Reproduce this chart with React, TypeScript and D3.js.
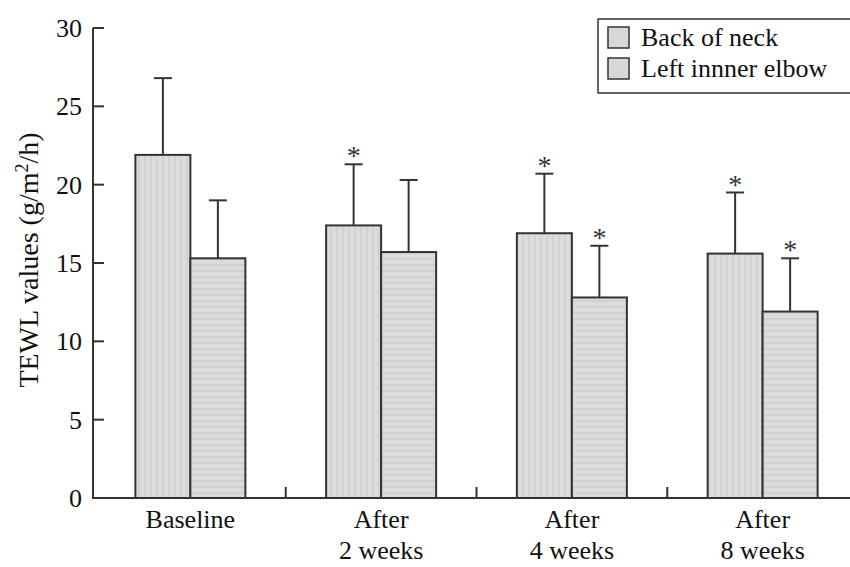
import React, { useEffect, useRef } from 'react';
import * as d3 from 'd3';

const categories = ['Baseline', 'After\n2 weeks', 'After\n4 weeks', 'After\n8 weeks'];
const seriesNames = ['Back of neck', 'Left innner elbow'];
const neckValues = [21.9, 17.4, 16.9, 15.6];
const neckErrors = [4.9, 3.9, 3.8, 3.9];
const elbowValues = [15.3, 15.7, 12.8, 11.9];
const elbowErrors = [3.7, 4.6, 3.3, 3.4];
const neckStars = [false, true, true, true];
const elbowStars = [false, false, true, true];
const yTicks = [0, 5, 10, 15, 20, 25, 30];

const App = () => {
    const svgRef = useRef<SVGSVGElement>(null);

    useEffect(() => {
        const svg = d3.select(svgRef.current);
        svg.selectAll('*').remove();

        const width = 850;
        const height = 567;
        const margin = { top: 28, right: 0, bottom: 69, left: 93 };
        const font = 'Liberation Serif';

        const defs = svg.append('defs');
        const pv = defs.append('pattern').attr('id', 'pv').attr('patternUnits', 'userSpaceOnUse')
            .attr('width', 6).attr('height', 6);
        pv.append('rect').attr('width', 6).attr('height', 6).attr('fill', '#dcdcdc');
        pv.append('rect').attr('x', 0).attr('width', 2).attr('height', 6).attr('fill', '#d2d2d2');
        const ph = defs.append('pattern').attr('id', 'ph').attr('patternUnits', 'userSpaceOnUse')
            .attr('width', 6).attr('height', 6);
        ph.append('rect').attr('width', 6).attr('height', 6).attr('fill', '#dcdcdc');
        ph.append('rect').attr('y', 0).attr('width', 6).attr('height', 2).attr('fill', '#d0d0d0');

        const xScale = d3.scaleBand()
            .domain(categories)
            .range([margin.left + 2, 858])
            .paddingInner(0)
            .paddingOuter(0);

        const yScale = d3.scaleLinear()
            .domain([0, 30])
            .range([height - margin.bottom, margin.top]);

        const barW = 55;
        const g = svg.append('g');

        const series = [
            { values: neckValues, errors: neckErrors, stars: neckStars, fill: 'url(#pv)', off: -barW },
            { values: elbowValues, errors: elbowErrors, stars: elbowStars, fill: 'url(#ph)', off: 0 },
        ];

        series.forEach(s => {
            categories.forEach((c, i) => {
                const cx = xScale(c)! + xScale.bandwidth() / 2;
                const x0 = cx + s.off;
                const top = s.values[i] + s.errors[i];
                const mid = x0 + barW / 2;
                // error bar
                g.append('line').attr('x1', mid).attr('x2', mid)
                    .attr('y1', yScale(s.values[i])).attr('y2', yScale(top))
                    .attr('stroke', '#333').attr('stroke-width', 2);
                g.append('line').attr('x1', mid - 9).attr('x2', mid + 9)
                    .attr('y1', yScale(top)).attr('y2', yScale(top))
                    .attr('stroke', '#333').attr('stroke-width', 2);
                g.append('rect')
                    .attr('x', x0).attr('y', yScale(s.values[i]))
                    .attr('width', barW).attr('height', yScale(0) - yScale(s.values[i]))
                    .attr('fill', s.fill).attr('stroke', '#333').attr('stroke-width', 2);
                if (s.stars[i]) {
                    g.append('text').attr('x', mid).attr('y', yScale(top) + 1)
                        .attr('text-anchor', 'middle').attr('font-family', font)
                        .attr('font-size', 28).attr('fill', '#333').text('*');
                }
            });
        });

        // axes
        const axis = svg.append('g').attr('stroke', '#333').attr('stroke-width', 2);
        axis.append('line').attr('x1', margin.left).attr('x2', margin.left)
            .attr('y1', yScale(30)).attr('y2', yScale(0));
        axis.append('line').attr('x1', margin.left - 1).attr('x2', width)
            .attr('y1', yScale(0)).attr('y2', yScale(0));
        yTicks.forEach(t => {
            axis.append('line').attr('x1', margin.left).attr('x2', margin.left + 11)
                .attr('y1', yScale(t)).attr('y2', yScale(t));
            svg.append('text').attr('x', margin.left - 11).attr('y', yScale(t))
                .attr('dy', '0.35em').attr('text-anchor', 'end')
                .attr('font-family', font).attr('font-size', 26).attr('fill', '#111')
                .text(t);
        });
        categories.slice(1).forEach(c => {
            const x = xScale(c)!;
            axis.append('line').attr('x1', x).attr('x2', x)
                .attr('y1', yScale(0)).attr('y2', yScale(0) - 11);
        });

        categories.forEach(c => {
            const cx = xScale(c)! + xScale.bandwidth() / 2;
            const lines = c.split('\n');
            const t = svg.append('text').attr('text-anchor', 'middle')
                .attr('font-family', font).attr('font-size', 26).attr('fill', '#111');
            lines.forEach((l, k) => {
                t.append('tspan').attr('x', cx).attr('y', yScale(0) + 30 + k * 31).text(l);
            });
        });

        // y label
        const yl = svg.append('text')
            .attr('transform', `translate(38, 260) rotate(-90)`)
            .attr('text-anchor', 'middle')
            .attr('font-family', font).attr('font-size', 28).attr('fill', '#111');
        yl.append('tspan').text('TEWL values (g/m');
        yl.append('tspan').attr('font-size', 18).attr('dy', -10).text('2');
        yl.append('tspan').attr('dy', 10).text('/h)');

        // legend
        const lg = svg.append('g');
        lg.append('rect').attr('x', 598).attr('y', 19).attr('width', 260).attr('height', 74)
            .attr('fill', 'white').attr('stroke', '#333').attr('stroke-width', 1.5);
        seriesNames.forEach((n, i) => {
            const y = 27 + i * 31;
            lg.append('rect').attr('x', 608).attr('y', y).attr('width', 21).attr('height', 21)
                .attr('fill', '#d8d8d8').attr('stroke', '#333').attr('stroke-width', 1.5);
            lg.append('text').attr('x', 641).attr('y', y + 19)
                .attr('font-family', font).attr('font-size', 26).attr('fill', '#111').text(n);
        });
    }, []);

    return (
        <svg ref={svgRef} width={850} height={567} style={{ position: 'absolute', left: 0, top: 0 }}></svg>
    );
};

export default App;
